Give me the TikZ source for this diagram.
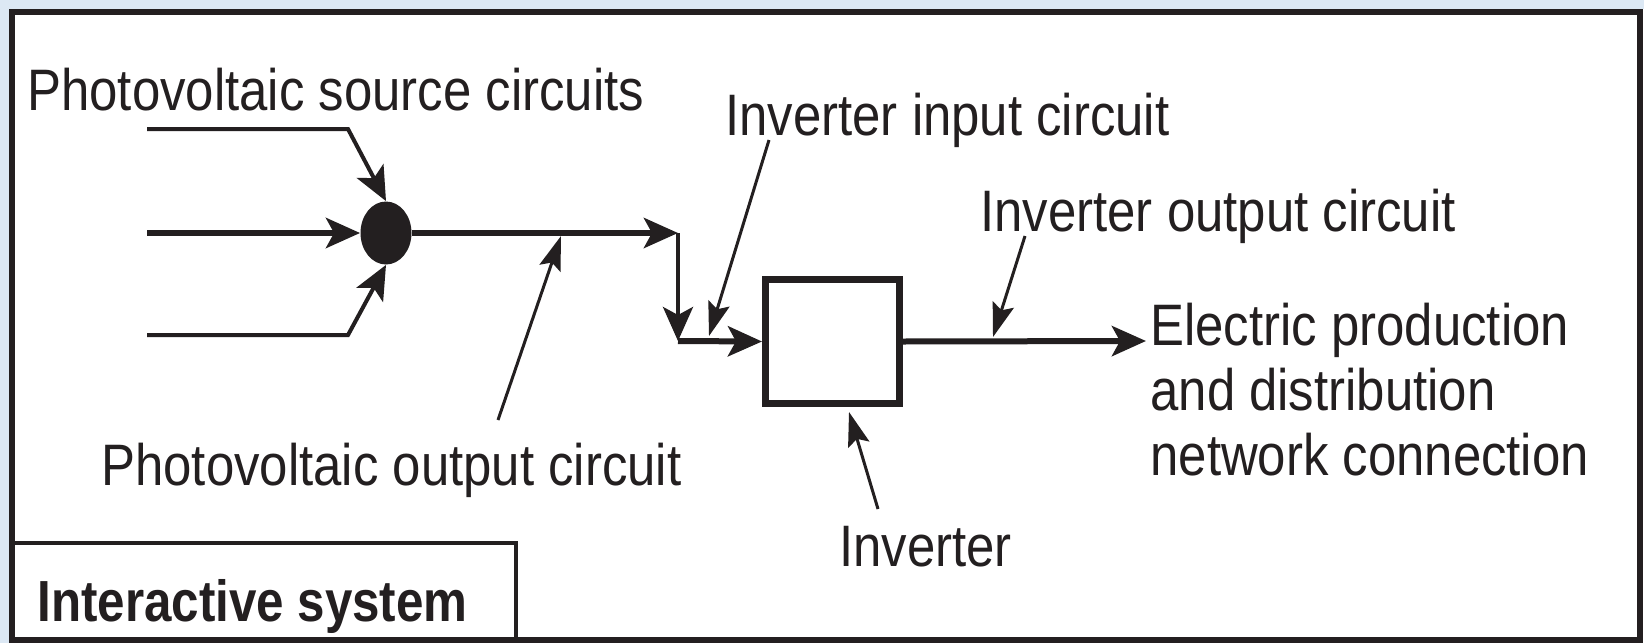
\documentclass[tikz,border=0pt]{standalone}
\usepackage{fontspec}
\setmainfont{Liberation Sans}[FakeStretch=0.87,BoldFeatures={FakeStretch=0.85}]
\usetikzlibrary{arrows.meta,shapes.geometric}
\definecolor{ink}{HTML}{231F20}
\definecolor{bgblue}{HTML}{DCE8F4}
\begin{document}
\begin{tikzpicture}[x=0.5pt,y=-0.5pt,
  lbl/.style={inner sep=0pt, anchor=base west, text=ink, font=\fontsize{29.25}{32.5}\selectfont},
  tip/.style={-{Stealth[length=17pt,width=15pt,inset=4pt]}},
  ltip/.style={-{Stealth[length=17pt,width=11pt,inset=3pt]}},
  mainl/.style={draw=ink, line width=3pt},
  inl/.style={draw=ink, line width=2pt},
  thinl/.style={draw=ink, line width=1.5pt}]
\useasboundingbox (0,0) rectangle (1644,643);
\fill[bgblue] (0,0) rectangle (1644,643);
\fill[white] (9,9) rectangle (1644,643);
\draw[ink, line width=2.6pt] (12,12) rectangle (1640,640);
% interactive system tab
\draw[ink, line width=2pt] (12,543) -- (516,543) -- (516,640);
\node[lbl, font=\fontsize{29}{32.5}\selectfont\bfseries] (sys) at (37,621) {Interactive system};
% labels
\node[lbl] (pvs) at (27,110) {Photovoltaic source circuits};
\node[lbl] (iic) at (725,135) {Inverter input circuit};
\node[lbl] (ioc) at (980,231) {Inverter output circuit};
\node[lbl] (pvo) at (101,485) {Photovoltaic output circuit};
\node[lbl] (invl) at (839,566) {Inverter};
\node[inner sep=0pt, anchor=north west, text=ink, align=left, font=\fontsize{29.25}{32.5}\selectfont] (grid) at (1150,303) {Electric production\\and distribution\\network connection};
% combiner dot and inverter
\node[ellipse, fill=ink, minimum width=25.5pt, minimum height=31.5pt, inner sep=0pt] (dot) at (386,233) {};
\node[draw=ink, line width=3.5pt, minimum width=67pt, minimum height=62pt, inner sep=0pt] (inv) at (832.5,341.5) {};
% source circuits
\coordinate (s1) at (147,129); \coordinate (s1b) at (348,129);
\coordinate (s2) at (147,233);
\coordinate (s3) at (147,335); \coordinate (s3b) at (348,335);
\draw[inl, tip] (s1) -- (s1b) -- (dot.north);
\draw[mainl, tip] (s2) -- (dot.west);
\draw[inl, tip] (s3) -- (s3b) -- (dot.south);
% output circuit
\coordinate (j1) at (678,233);
\coordinate (j2) at (678,341);
\coordinate (out) at (1146,341);
\draw[mainl, tip] (dot.east) -- (j1);
\draw[thinl, tip, line width=2pt] (j1) -- (j2);
\draw[mainl, tip] (j2) -- (inv.west);
\draw[mainl, tip] (inv.east) -- (out);
% leaders
\coordinate (a1) at (769,140); \coordinate (b1) at (709,336);
\coordinate (a2) at (1025,236); \coordinate (b2) at (993,337);
\coordinate (a3) at (498,420); \coordinate (b3) at (561,236);
\coordinate (a4) at (878,509); \coordinate (b4) at (849,412);
\draw[thinl, ltip] (a1) -- (b1);
\draw[thinl, ltip] (a2) -- (b2);
\draw[thinl, ltip] (a3) -- (b3);
\draw[thinl, ltip] (a4) -- (b4);
\end{tikzpicture}
\end{document}
